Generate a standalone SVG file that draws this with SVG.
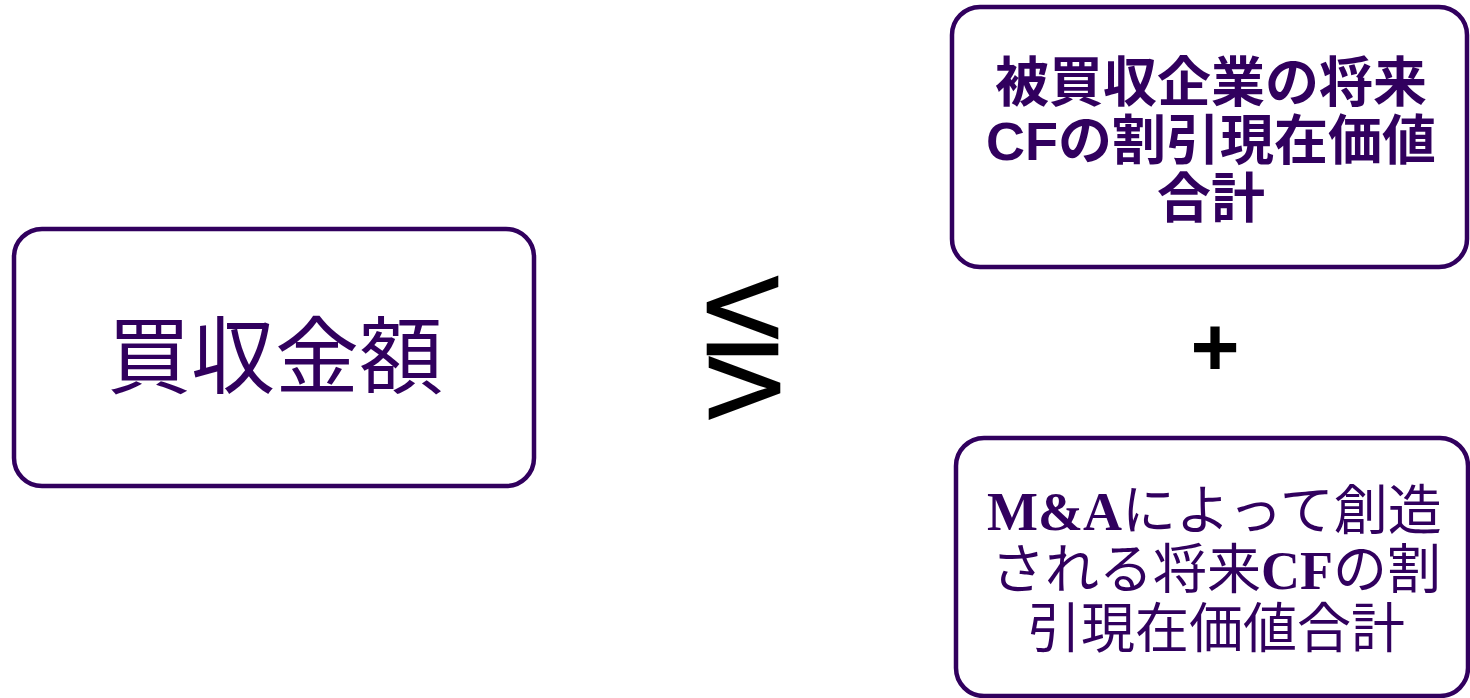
<svg xmlns="http://www.w3.org/2000/svg" width="1470" height="698" viewBox="0 0 1470 698">
<style>
.box{fill:#ffffff;stroke:#31005e;stroke-width:4.5}
.t{fill:#31005e;text-anchor:middle}
.s{fill:#31005e;text-anchor:start;font-size:54px}
.sans{font-family:"Liberation Sans","Noto Sans CJK JP",sans-serif}
.serif{font-family:"Liberation Serif","Noto Sans CJK JP",serif;font-weight:bold}
.cjk{font-family:"Liberation Sans","Noto Sans CJK JP",sans-serif}
.sym{font-family:"Liberation Sans",sans-serif;font-size:100px;fill:#000000;stroke:#000000;stroke-width:2.6;stroke-linejoin:miter;text-anchor:middle}
</style>
<rect width="1470" height="698" fill="#ffffff"/>
<g id="connectors"></g>
<g id="node-price">
<rect class="box" x="14" y="229" width="520" height="257" rx="28"/>
<text class="t cjk" x="275" y="387" font-size="84">買収金額</text>
</g>
<g id="node-relation">
<text class="sym" transform="translate(708,307.5) rotate(90) scale(0.92,1)" x="0" y="0">V</text>
<text class="sym" transform="translate(708,349.5) rotate(90)" x="0" y="0">I</text>
<text class="sym" transform="translate(779,388) rotate(-90) scale(0.92,1)" x="0" y="0">V</text>
</g>
<g id="node-target-cf">
<rect class="box" x="952" y="7" width="515" height="260" rx="28"/>
<text class="t sans" x="1211" y="102" font-size="54" font-weight="bold">被買収企業の将来</text>
<text class="t sans" x="1211" y="160" font-size="54" font-weight="bold">CFの割引現在価値</text>
<text class="t sans" x="1211" y="218" font-size="54" font-weight="bold">合計</text>
</g>
<g id="node-plus">
<text x="1215" y="376" font-family="Liberation Sans, sans-serif" font-weight="bold" font-size="84" text-anchor="middle" fill="#000000">+</text>
</g>
<g id="node-synergy-cf">
<rect class="box" x="956" y="438" width="512" height="258" rx="28"/>
<text class="s serif" x="987" y="530">M&amp;A</text>
<text class="s cjk" x="1122" y="530">によって創造</text>
<text class="s cjk" x="991" y="589">される将来</text>
<text class="s serif" x="1261" y="589">CF</text>
<text class="s cjk" x="1333" y="589">の割</text>
<text class="t cjk" x="1216" y="648" font-size="54">引現在価値合計</text>
</g>
</svg>
